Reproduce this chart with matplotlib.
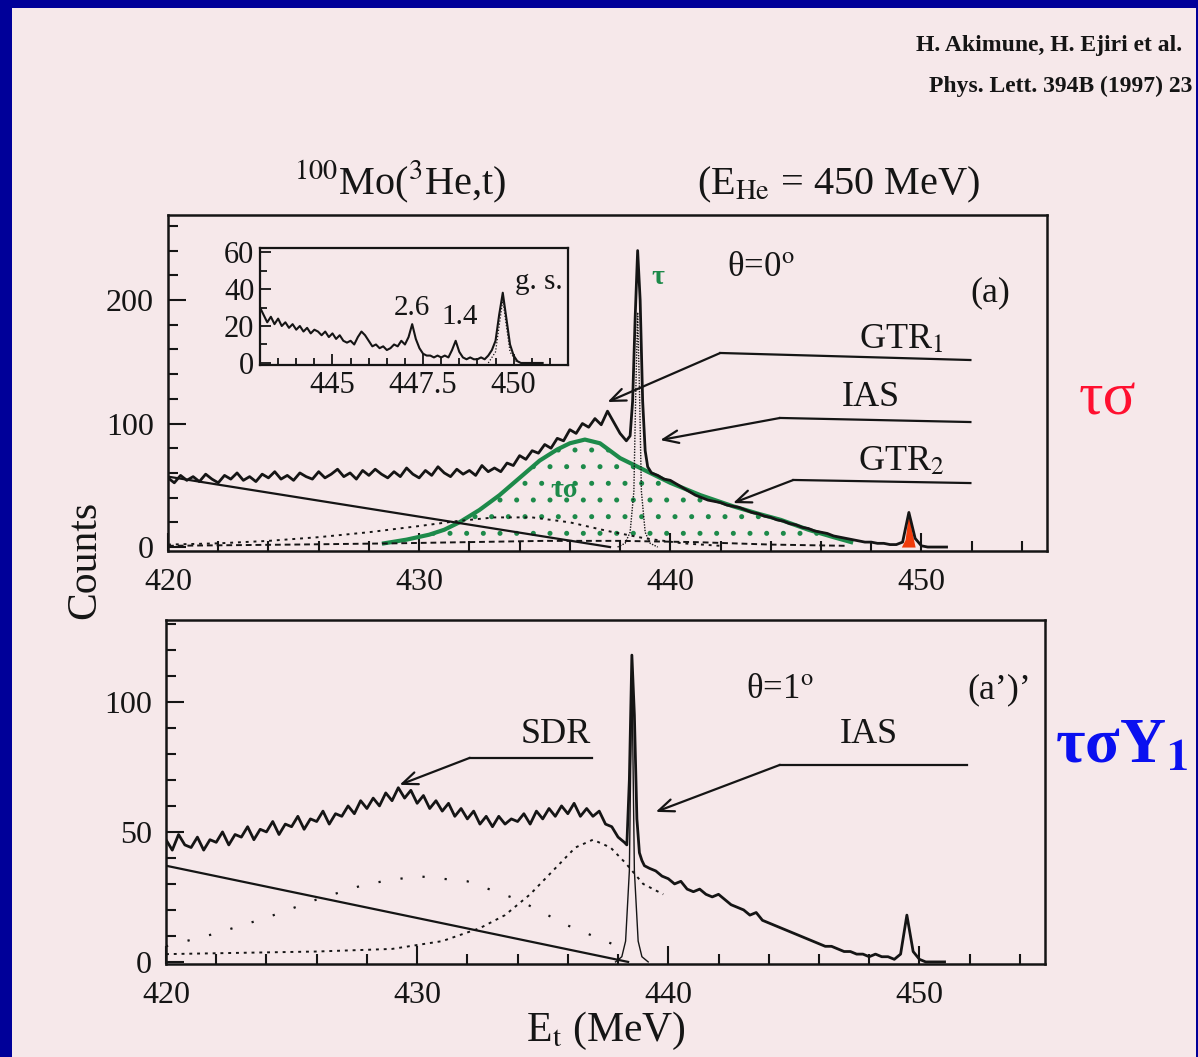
import matplotlib
matplotlib.use('Agg')
import numpy as np
import matplotlib.pyplot as plt
from matplotlib.patches import Rectangle
from matplotlib.ticker import MultipleLocator

plt.rcParams['font.family'] = ['Liberation Serif', 'DejaVu Serif']
plt.rcParams['mathtext.fontset'] = 'stix'
plt.rcParams['hatch.linewidth'] = 1.2

W, H = 1198, 1057
BLUE = '#000099'
PINK = '#f6e8ea'
INK = '#151515'
GREEN = '#1d8a4a'
RED = '#f03c0c'

# ---- (a) theta = 0 deg : counts in 0.25 MeV bins, 420.00 - 438.25 MeV
CNT_A_LOW = [
    56, 52, 58, 54,     # 420
    57, 53, 59, 55,     # 421
    52, 58, 55, 60,     # 422
    54, 57, 53, 59,     # 423
    56, 61, 55, 58,     # 424
    54, 60, 57, 55,     # 425
    61, 56, 59, 63,     # 426
    57, 60, 55, 62,     # 427
    58, 63, 59, 56,     # 428
    61, 57, 64, 59,     # 429
    56, 62, 58, 65,     # 430
    60, 57, 63, 59,     # 431
    62, 58, 66, 61,     # 432
    64, 61, 68, 66,     # 433
    74, 71, 78, 76,     # 434
    83, 80, 88, 86,     # 435
    95, 92, 100, 97,    # 436
    104, 99, 110, 101,  # 437
    92, 86,             # 438.00 438.25
]
# IAS peak region, finer bins
PEAK_E_A = [438.40, 438.50, 438.60, 438.70, 438.80, 438.90, 439.00, 439.10]
PEAK_C_A = [90, 118, 185, 240, 200, 118, 78, 65]
# 439.25 - 451.00 MeV
CNT_A_HIGH = [
    60, 58, 55,         # 439.25-439.75
    54, 51, 48, 45,     # 440
    42, 40, 38, 37,     # 441
    36, 34, 33, 32,     # 442
    30, 28, 27, 25,     # 443
    24, 22, 21, 19,     # 444
    18, 16, 15, 13,     # 445
    12, 11, 9, 8,       # 446
    7, 6, 5, 4,         # 447
    4, 3, 3, 2,         # 448
    2, 4, 28, 7,        # 449
    1, 0, 0, 0,         # 450
    0,                  # 451
]

# fitted components (a)
BG_E_A = [420.0, 437.6]
BG_C_A = [57, 0]
TS_E = [428.6, 429.5, 430.4, 431.0, 431.6, 432.4, 433.2, 434.0, 434.8, 435.5, 436.0,
        436.6, 437.2, 438.0, 439.0, 440.0, 441.2, 442.5, 443.5, 444.4, 445.5, 446.5, 447.2]
TS_C = [3, 6, 10, 14, 20, 30, 42, 56, 70, 79, 84, 87, 84, 72, 62, 52, 42, 33, 27, 22, 14, 8, 4]
DOT_E_A = [420, 422, 424, 426, 428, 430, 431.5, 433, 434.5, 436, 437.5, 439, 440.5, 442]
DOT_C_A = [2, 3, 5, 8, 12, 17, 21, 24, 24, 20, 13, 7, 3, 1]
FLAT_E_A = [420, 425, 429, 432, 435, 438, 441, 444, 447]
FLAT_C_A = [1, 2, 3, 4, 5, 5, 4, 2, 1]
IAS_E_A = [437.9, 438.2, 438.4, 438.55, 438.62, 438.7, 438.78, 438.85, 439.0, 439.2, 439.5]
IAS_C_A = [0, 3, 12, 45, 120, 190, 120, 45, 12, 3, 0]
GS_E = [449.2, 449.35, 449.5, 449.6, 449.75]
GS_C = [0, 6, 30, 14, 0]

# ---- inset : 0.1 MeV bins 443.0 - 450.8 MeV
INSET_C = [
    30, 26, 22, 25, 21, 24, 20, 22, 19, 21,   # 443
    18, 20, 17, 19, 16, 18, 17, 15, 17, 14,   # 444
    16, 13, 15, 12, 11, 12, 10, 14, 17, 15,   # 445
    12, 9, 10, 8, 9, 7, 8, 10, 9, 12,         # 446
    10, 14, 21, 13, 8, 5, 4, 4, 3, 4,         # 447
    3, 4, 3, 7, 12, 6, 3, 2, 3, 2,            # 448
    2, 3, 2, 4, 7, 12, 26, 38, 24, 10,        # 449
    4, 1, 0, 0, 0, 0, 0, 0, 0,                # 450
]
INSET_GS_E = [449.3, 449.5, 449.6, 449.7, 449.8, 449.9, 450.1]
INSET_GS_C = [0, 6, 20, 34, 20, 6, 0]

# ---- (a') theta = 1 deg
CNT_B_LOW = [
    47, 43, 49, 45,     # 420
    44, 48, 43, 47,     # 421
    46, 50, 45, 49,     # 422
    48, 52, 47, 51,     # 423
    50, 54, 49, 53,     # 424
    52, 56, 51, 55,     # 425
    54, 58, 53, 57,     # 426
    56, 60, 57, 62,     # 427
    59, 63, 60, 65,     # 428
    62, 67, 63, 66,     # 429
    61, 64, 59, 62,     # 430
    58, 61, 56, 59,     # 431
    55, 58, 53, 56,     # 432
    52, 56, 53, 55,     # 433
    54, 57, 53, 58,     # 434
    55, 59, 56, 60,     # 435
    57, 61, 56, 59,     # 436
    56, 58, 53, 52,     # 437
    48, 46,             # 438.00 438.25
]
PEAK_E_B = [438.35, 438.45, 438.55, 438.65, 438.75, 438.85, 438.95, 439.05]
PEAK_C_B = [45, 70, 118, 95, 55, 42, 39, 37]
CNT_B_HIGH = [
    36, 35, 33,
    32, 30, 31, 28,     # 440
    27, 28, 26, 25,     # 441
    26, 24, 22, 21,     # 442
    20, 18, 19, 16,     # 443
    15, 14, 13, 12,     # 444
    11, 10, 9, 8,       # 445
    7, 6, 6, 5,         # 446
    4, 4, 3, 3,         # 447
    2, 3, 2, 2,         # 448
    1, 3, 18, 4,        # 449
    1, 0, 0, 0,         # 450
    0,                  # 451
]
BG_E_B = [420.0, 438.4]
BG_C_B = [37, 0]
GTR_E_B = [420, 423, 426, 429, 431, 432.5, 433.5, 434.5, 435.5, 436.3, 437, 437.7, 438.3, 439, 439.8]
GTR_C_B = [3, 3.5, 4, 5, 8, 13, 18, 26, 36, 44, 47, 44, 38, 30, 26]
SDR_E_B = [420, 422, 424, 426, 428, 430, 432, 434, 436, 438]
SDR_C_B = [6, 11, 17, 24, 30, 33, 31, 24, 14, 6]
IAS_E_B = [437.9, 438.15, 438.3, 438.45, 438.55, 438.65, 438.8, 438.95, 439.2]
IAS_C_B = [0, 2, 8, 35, 112, 35, 8, 2, 0]


def px(x, y):
    return x / W, 1 - y / H


E_a = np.concatenate([np.arange(420, 438.26, 0.25), PEAK_E_A, np.arange(439.25, 451.01, 0.25)])
C_a = np.array(CNT_A_LOW + PEAK_C_A + CNT_A_HIGH)
E_b = np.concatenate([np.arange(420, 438.26, 0.25), PEAK_E_B, np.arange(439.25, 451.01, 0.25)])
C_b = np.array(CNT_B_LOW + PEAK_C_B + CNT_B_HIGH)
E_in = np.arange(443.0, 450.85, 0.1)[:len(INSET_C)]

fig = plt.figure(figsize=(W / 100, H / 100), dpi=100, facecolor=BLUE)
fig.add_artist(Rectangle((12 / W, 0), (1196 - 12) / W, 1 - 8 / H,
                         transform=fig.transFigure, facecolor=PINK, edgecolor='none', zorder=-5))


def style(ax, ymaj, ymin):
    ax.set_facecolor('none')
    for s in ax.spines.values():
        s.set_linewidth(1.8)
        s.set_color(INK)
    ax.xaxis.set_major_locator(MultipleLocator(10))
    ax.xaxis.set_minor_locator(MultipleLocator(2))
    ax.yaxis.set_major_locator(MultipleLocator(ymaj))
    ax.yaxis.set_minor_locator(MultipleLocator(ymin))
    ax.tick_params(which='both', direction='in', top=False, right=False,
                   colors=INK, labelsize=23, width=1.5)
    ax.tick_params(which='major', length=13)
    ax.tick_params(which='minor', length=7)
    ax.tick_params(axis='x', which='major', pad=12)
    ax.tick_params(axis='y', which='major', pad=10)


# ---------------- top panel (a)
ax1 = fig.add_axes([168 / W, 1 - 551 / H, 879 / W, 336 / H])
style(ax1, 100, 20)
ax1.set_xlim(420, 455)
ax1.set_ylim(-3.2, 268.8)
ax1.fill_between(TS_E, TS_C, 0, facecolor='none', edgecolor=GREEN, hatch='.', lw=0)
ax1.plot(TS_E, TS_C, color=GREEN, lw=3)
ax1.plot(BG_E_A, BG_C_A, color=INK, lw=1.6)
ax1.plot(DOT_E_A, DOT_C_A, color=INK, lw=1.4, ls=(0, (1.5, 2.5)))
ax1.plot(FLAT_E_A, FLAT_C_A, color=INK, lw=1.4, ls=(0, (3, 2)))
ax1.plot(IAS_E_A, IAS_C_A, color=INK, lw=1.0, ls=(0, (1, 1)))
ax1.fill_between(GS_E, GS_C, 0, color=RED, lw=0)
ax1.plot(E_a, C_a, color=INK, lw=2.0)

# leader lines (a)
for pts, tip in [([(451.95, 151.4), (441.99, 157.1)], (437.5, 117.4)),
                 ([(451.95, 101.2), (444.37, 104.5)], (439.6, 86.6)),
                 ([(451.95, 51.8), (444.9, 54.3)], (442.5, 35.6))]:
    xs, ys = zip(*pts)
    ax1.plot(xs, ys, color=INK, lw=1.6)
    ax1.annotate('', xy=tip, xytext=pts[-1],
                 arrowprops=dict(arrowstyle='->,head_length=1.1,head_width=0.45',
                                 color=INK, lw=1.6, shrinkA=0, shrinkB=0))

ax1.text(443.6, 226, r'θ=0$^{\mathrm{o}}$', fontsize=25, color=INK, ha='center', va='center')
ax1.text(452.75, 206, '(a)', fontsize=26, color=INK, ha='center', va='center')
ax1.text(449.2, 168, r'GTR$_{1}$', fontsize=26, color=INK, ha='center', va='center')
ax1.text(448.0, 121, 'IAS', fontsize=26, color=INK, ha='center', va='center')
ax1.text(449.2, 69, r'GTR$_{2}$', fontsize=26, color=INK, ha='center', va='center')
ax1.text(439.5, 218, 'τ', fontsize=20, color=GREEN, weight='bold', ha='center', va='center')
ax1.text(435.8, 46, 'τσ', fontsize=20, color=GREEN, weight='bold', ha='center', va='center')

# ---------------- inset
axin = fig.add_axes([260 / W, 1 - 365 / H, 308 / W, 117 / H])
axin.set_facecolor(PINK)
for s in axin.spines.values():
    s.set_linewidth(1.6)
    s.set_color(INK)
axin.set_xlim(443.0, 451.5)
axin.set_ylim(-1.1, 62.2)
axin.set_xticks([445, 447.5, 450])
axin.set_xticklabels(['445', '447.5', '450'])
axin.xaxis.set_minor_locator(MultipleLocator(0.5))
axin.yaxis.set_major_locator(MultipleLocator(20))
axin.yaxis.set_minor_locator(MultipleLocator(10))
axin.tick_params(which='both', direction='in', top=False, right=False,
                 colors=INK, labelsize=22, width=1.3)
axin.tick_params(which='major', length=8, pad=4)
axin.tick_params(which='minor', length=5)
axin.plot(INSET_GS_E, INSET_GS_C, color=INK, lw=0.9, ls=(0, (1, 1.5)))
axin.plot(E_in, INSET_C, color=INK, lw=1.5)
axin.text(447.2, 30, '2.6', fontsize=21, color=INK, ha='center', va='center')
axin.text(448.5, 25, '1.4', fontsize=21, color=INK, ha='center', va='center')
axin.text(450.05, 44, 'g. s.', fontsize=21, color=INK, ha='left', va='center')

# ---------------- bottom panel (a')
ax2 = fig.add_axes([166 / W, 1 - 964 / H, 879 / W, 344 / H])
style(ax2, 50, 10)
ax2.set_xlim(420, 455)
ax2.set_ylim(-0.8, 131.5)
ax2.plot(BG_E_B, BG_C_B, color=INK, lw=1.6)
ax2.plot(GTR_E_B, GTR_C_B, color=INK, lw=1.4, ls=(0, (1.5, 2.5)))
ax2.plot(SDR_E_B, SDR_C_B, color=INK, lw=1.6, ls=(0, (1, 9)))
ax2.plot(IAS_E_B, IAS_C_B, color=INK, lw=1.0)
ax2.plot(E_b, C_b, color=INK, lw=2.0)

for pts, tip in [([(436.97, 78.5), (432.1, 78.5)], (429.3, 68.1)),
                 ([(451.9, 75.8), (444.45, 75.8)], (439.5, 57.7))]:
    xs, ys = zip(*pts)
    ax2.plot(xs, ys, color=INK, lw=1.6)
    ax2.annotate('', xy=tip, xytext=pts[-1],
                 arrowprops=dict(arrowstyle='->,head_length=1.1,head_width=0.45',
                                 color=INK, lw=1.6, shrinkA=0, shrinkB=0))

ax2.text(444.45, 104.6, r'θ=1$^{\mathrm{o}}$', fontsize=25, color=INK, ha='center', va='center')
ax2.text(453.2, 104.6, '(a’)’', fontsize=26, color=INK, ha='center', va='center')
ax2.text(435.5, 87.3, 'SDR', fontsize=26, color=INK, ha='center', va='center')
ax2.text(448.0, 87.3, 'IAS', fontsize=26, color=INK, ha='center', va='center')
ax2.set_xlabel(r'E$_{\mathrm{t}}$ (MeV)', fontsize=30, color=INK, labelpad=0)

# ---------------- figure texts
fig.text(*px(85, 560), 'Counts', fontsize=30, color=INK, rotation=90, ha='center', va='center')
fig.text(*px(400, 182), r'$^{100}$Mo($^{3}$He,t)', fontsize=29, color=INK, ha='center', va='center')
fig.text(*px(838, 185), r'(E$_{\mathrm{He}}$ = 450 MeV)', fontsize=29, color=INK, ha='center', va='center')
fig.text(*px(1182, 45), 'H. Akimune, H. Ejiri et al.', fontsize=17, weight='bold',
         color=INK, ha='right', va='center')
fig.text(*px(1192, 86), 'Phys. Lett. 394B (1997) 23', fontsize=17, weight='bold',
         color=INK, ha='right', va='center')
fig.text(*px(1107, 400), 'τσ', fontsize=44, color='#ff1030', ha='center', va='center')
fig.text(*px(1122, 748), r'τσY$_{\mathbf{1}}$', fontsize=46, weight='bold', color='#0a10f0',
         ha='center', va='center')

fig.savefig('out.png', dpi=100, facecolor=BLUE)
